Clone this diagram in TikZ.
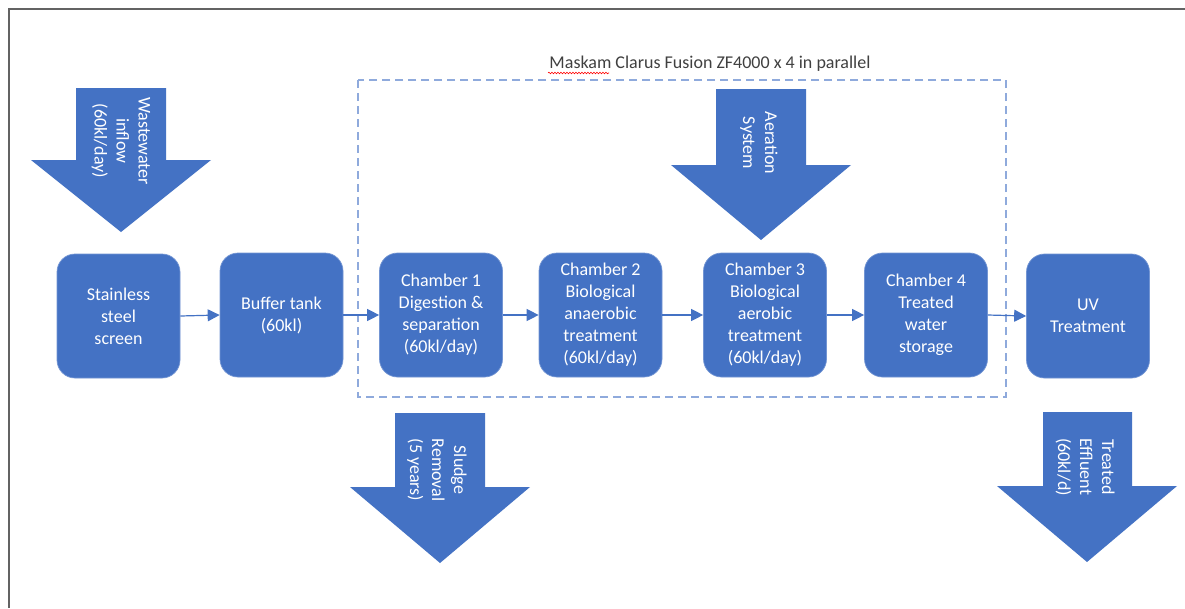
\documentclass[tikz,border=0pt]{standalone}
\usepackage{fontspec}
\setmainfont{Carlito}
\usetikzlibrary{arrows.meta,decorations.pathmorphing}
\definecolor{boxblue}{HTML}{4472C4}
\definecolor{dashblue}{HTML}{8FAADC}
\definecolor{titlegray}{HTML}{404040}
\definecolor{framegray}{HTML}{636363}
\tikzset{
	stage/.style={rectangle, rounded corners=18pt, fill=boxblue, draw=boxblue!75!white, line width=0.7pt,
		minimum width=123pt, minimum height=124pt, inner sep=0pt,
		text=white, align=center, font=\fontsize{18}{22}\selectfont},
	flow/.style={draw=boxblue, line width=1.2pt, -{Triangle[length=12pt,width=12pt]}},
	arrowtext/.style={rotate=-90, text=white, align=center, font=\fontsize{18}{22}\selectfont},
}
\begin{document}
\begin{tikzpicture}[x=1pt, y=-1pt]
	\useasboundingbox (0,0) rectangle (1185,608);
	\fill[white] (0,0) rectangle (1185,608);
	\draw[framegray, line width=1.5pt] (9,608) -- (9,9) -- (1185,9);
	
	% dashed unit boundary
	\draw[dashblue, line width=1.5pt, dash pattern=on 8pt off 5pt] (358,80) rectangle (1006,397);
	\node[text=titlegray, font=\fontsize{18}{22}\selectfont] (title) at (710,64) {Maskam Clarus Fusion ZF4000 x 4 in parallel};
	\draw[red, line width=0.6pt, decorate, decoration={snake, amplitude=0.8pt, segment length=3pt}] (548,73) -- (609,73);
	
	% block arrows
	\fill[boxblue] (76,88) -- (166,88) -- (166,160) -- (211,160) -- (121,232) -- (31,160) -- (76,160) -- cycle;
	\fill[boxblue] (716,89) -- (806,89) -- (806,165) -- (851,165) -- (761,240) -- (671,165) -- (716,165) -- cycle;
	\fill[boxblue] (395,413) -- (485,413) -- (485,487) -- (530,487) -- (440,563) -- (350,487) -- (395,487) -- cycle;
	\fill[boxblue] (1043,412) -- (1132,412) -- (1132,486) -- (1177,486) -- (1087,562) -- (997,486) -- (1043,486) -- cycle;
	\node[arrowtext] (inflow) at (121,141) {Wastewater\\inflow\\(60kl/day)};
	\node[arrowtext] (aeration) at (759,143) {Aeration\\System};
	\node[arrowtext] (sludge) at (437,470) {Sludge\\Removal\\(5 years)};
	\node[arrowtext] (effluent) at (1085,467) {Treated\\Effluent\\(60kl/d)};
	
	% process stages
	\node[stage] (screen) at (118.5,316) {Stainless\\steel\\screen};
	\node[stage] (buffer) at (281.5,315) {Buffer tank\\(60kl)};
	\node[stage] (ch1) at (441,315) {Chamber 1\\Digestion \&\\separation\\(60kl/day)};
	\node[stage] (ch2) at (600.5,315) {Chamber 2\\Biological\\anaerobic\\treatment\\(60kl/day)};
	\node[stage] (ch3) at (765,315) {Chamber 3\\Biological\\aerobic\\treatment\\(60kl/day)};
	\node[stage] (ch4) at (926,315) {Chamber 4\\Treated\\water\\storage};
	\node[stage] (uv) at (1088,316) {UV\\Treatment};
	
	\draw[flow] (screen.east) -- (buffer.west);
	\draw[flow] (buffer.east) -- (ch1.west);
	\draw[flow] (ch1.east) -- (ch2.west);
	\draw[flow] (ch2.east) -- (ch3.west);
	\draw[flow] (ch3.east) -- (ch4.west);
	\draw[flow] (ch4.east) -- (uv.west);
\end{tikzpicture}
\end{document}
